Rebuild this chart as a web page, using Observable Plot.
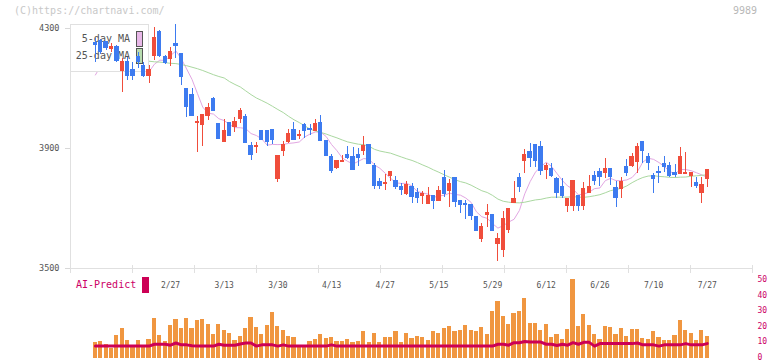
<!DOCTYPE html>
<html>
<head>
<meta charset="utf-8">
<script src="https://cdn.jsdelivr.net/npm/d3@7"></script>
<script src="https://cdn.jsdelivr.net/npm/@observablehq/plot@0.6"></script>
<style>
  body { margin: 0; background: #fff; }
  #chart { position: relative; width: 772px; height: 361px; overflow: hidden; font-family: "DejaVu Sans Mono", monospace; }
  #chart svg { position: absolute; left: 0; top: 0; }
  .credit { position: absolute; left: 14px; top: 6px; font-size: 10px; line-height: 10px; color: #c8c8c8; white-space: nowrap; }
  .code { position: absolute; left: 733px; top: 6px; font-size: 10px; line-height: 10px; color: #b8b8b8; }
  .ai { position: absolute; left: 76px; top: 280px; font-size: 10px; line-height: 10px; color: #cc0066; }
  .ai-swatch { position: absolute; left: 142px; top: 277px; width: 7px; height: 16px; background: #cc0055; }
</style>
</head>
<body>
<div id="chart">
  <div class="credit">(C)https://chartnavi.com/</div>
  <div class="code">9989</div>
</div>
<script>
// Daily candles: open / high / low / close
const open = [4252,4257,4254,4232,4240,4160,4190,4163,4205,4174,4143,4208,4288,4204,4198,4247,4215,4099,4080,3986,
  3980,4010,4066,3982,3921,3986,3973,3997,4004,3910,3905,3957,3960,3963,3799,3891,3921,3963,3941,3977,
  3966,3960,3984,3924,3871,3836,3856,3880,3871,3880,3893,3913,3843,3788,3782,3810,3793,3773,3749,3773,
  3751,3743,3716,3743,3724,3801,3760,3801,3724,3716,3713,3671,3597,3677,3679,3582,3563,3627,3719,3801,
  3858,3890,3913,3904,3830,3832,3799,3771,3710,3708,3743,3710,3752,3810,3821,3818,3832,3769,3766,3840,
  3841,3854,3923,3873,3810,3823,3849,3841,3819,3816,3816,3810,3784,3751,3799];
const high = [4266,4262,4258,4250,4244,4201,4204,4188,4219,4188,4177,4305,4293,4210,4236,4313,4218,4100,4099,4007,
  4014,4049,4069,3984,3997,3988,4002,4032,4012,3921,3921,3958,3961,3964,3877,3924,3963,3988,3960,3984,
  3980,3997,4010,3925,3880,3861,3877,3907,3904,3901,3940,3915,3849,3799,3813,3823,3808,3784,3790,3784,
  3766,3758,3771,3744,3774,3827,3796,3802,3725,3727,3715,3672,3651,3712,3681,3616,3690,3699,3790,3816,
  3897,3916,3915,3923,3849,3849,3804,3799,3732,3793,3743,3786,3810,3824,3832,3866,3833,3790,3802,3862,
  3882,3916,3924,3884,3816,3840,3873,3854,3847,3904,3888,3819,3802,3804,3830];
const low = [4188,4215,4228,4220,4188,4086,4127,4128,4166,4138,4118,4193,4204,4179,4175,4200,4110,4004,4008,3888,
  3906,3993,4024,3930,3919,3941,3955,3982,3916,3860,3884,3927,3907,3912,3788,3874,3918,3930,3929,3932,
  3943,3958,3924,3874,3816,3830,3852,3862,3830,3841,3877,3847,3765,3763,3760,3791,3763,3743,3743,3716,
  3716,3713,3716,3696,3724,3738,3704,3702,3682,3663,3660,3624,3588,3638,3624,3525,3536,3616,3719,3754,
  3818,3838,3838,3810,3796,3805,3734,3732,3686,3691,3691,3693,3752,3777,3774,3799,3777,3704,3734,3807,
  3838,3818,3849,3827,3751,3784,3821,3802,3804,3813,3813,3771,3766,3716,3771];
const close = [4246,4223,4234,4240,4193,4190,4143,4143,4188,4143,4163,4268,4210,4184,4223,4241,4138,4040,4010,3990,
  4012,4036,4026,3932,3960,3943,3987,4024,3918,3877,3910,3930,3921,3930,3874,3913,3947,3930,3945,3957,
  3962,3982,3924,3874,3824,3860,3860,3868,3830,3868,3907,3847,3774,3774,3786,3823,3771,3763,3777,3738,
  3734,3747,3743,3724,3760,3747,3782,3721,3713,3712,3674,3624,3640,3686,3624,3599,3666,3699,3732,3771,
  3877,3869,3858,3824,3843,3807,3751,3741,3732,3793,3710,3766,3771,3791,3804,3832,3804,3734,3788,3818,
  3873,3904,3891,3852,3799,3820,3838,3808,3813,3871,3819,3819,3774,3777,3830];

// Moving-average values before a full window of closes is available
const ma5Lead = [4145, 4175, 4200, 4220];
const ma25Lead = [null, null, null, null, null, null, null, null, null, null,
  4191, 4189, 4188, 4186, 4184, 4183, 4180, 4176, 4171, 4166, 4160, 4153, 4146, 4140];

// Volume (right axis) and the AI-Predict line
const volume = [9.4,10.0,8.5,6.0,14.2,18.5,11.1,6.5,11.1,6.5,11.7,25.2,14.2,10.4,20.6,24.4,18.5,25.0,18.5,23.7,
  24.4,21.2,14.9,21.2,17.4,15.3,10.7,13.2,18.5,25.8,19.5,14.9,20.6,28.8,20.1,17.4,13.6,12.8,6.5,6.5,
  10.4,11.5,14.9,12.1,12.9,10.4,10.4,11.5,9.8,10.4,16.8,9.8,15.4,9.8,12.9,12.9,16.8,9.9,15.6,12.5,
  13.7,13.1,11.1,16.4,15.6,18.8,20.0,16.4,17.4,20.7,17.0,16.4,19.4,14.9,29.4,35.8,26.4,21.1,28.4,29.4,
  37.9,22.0,22.0,17.0,21.2,12.7,14.5,11.7,18.0,49.7,20.1,27.5,20.6,14.9,11.7,20.0,19.4,14.9,18.7,13.6,
  18.0,18.0,12.4,11.7,16.8,12.9,11.1,11.1,14.2,23.7,17.4,15.5,11.1,17.4,13.6];
const aiPredict = [7.3,7.3,7.3,7.3,7.3,7.3,7.3,7.3,7.3,7.3,7.3,8.5,8.5,8.5,7.9,9.3,8.1,8.1,7.5,7.3,
  7.3,7.3,7.3,8.5,7.9,7.9,7.9,8.7,9.3,9.3,7.3,8.1,8.1,8.1,7.3,8.1,7.3,7.3,7.3,7.3,
  7.3,7.3,7.3,7.3,8.1,7.3,7.3,7.3,7.3,7.3,7.3,7.3,7.3,7.3,7.3,7.3,7.3,7.3,7.3,7.3,
  7.3,7.3,7.3,7.3,7.3,7.3,7.3,7.3,7.3,7.3,7.3,7.3,7.3,7.3,7.3,8.5,8.5,7.9,9.5,9.5,
  10.3,9.9,9.9,9.9,8.5,8.5,7.7,8.5,7.9,9.5,8.5,9.7,9.7,7.3,8.9,8.9,8.9,8.9,8.9,8.9,
  8.9,9.3,8.1,8.1,8.1,7.3,8.1,8.1,8.1,8.1,8.9,8.1,8.1,8.1,8.9];

// Date labels under the price panel (candle index -> label)
const dateIndex = [14, 24, 34, 44, 54, 64, 74, 84, 94, 104, 114];
const dateText = ["2/27", "3/13", "3/30", "4/13", "4/27", "5/15", "5/29", "6/12", "6/26", "7/10", "7/27"];

// Axis ticks
const priceTicks = [3500, 3900, 4300];
const volumeTicks = [0, 10, 20, 30, 40, 50];

const legendItems = [
  {label: "5-day MA", color: "#e8b8e8"},
  {label: "25-day MA", color: "#b8dcb0"}
];

const UP = "#f04d3b", DOWN = "#3d7bf0";
const MONO = "DejaVu Sans Mono, monospace";

const xDomain = [-4.64, 122.43];
const divisions = d3.range(12).map(k => xDomain[0] + k * (xDomain[1] - xDomain[0]) / 11);

const candles = close.map((c, i) => ({i, open: open[i], high: high[i], low: low[i], close: c}));
const rising = candles.filter(d => d.close >= d.open);
const falling = candles.filter(d => d.close < d.open);

function movingAverage(n, lead) {
  return close.map((c, i) => i < n - 1 ? lead[i] : d3.mean(close.slice(i - n + 1, i + 1)));
}
const ma5 = movingAverage(5, ma5Lead).map((v, i) => ({i, v}));
const ma25 = movingAverage(25, ma25Lead).map((v, i) => ({i, v})).filter(d => d.v != null);

const dates = dateIndex.map((i, k) => ({i, text: dateText[k]}));

// Legend box: sits over the average lines, under the candles
function legend(index, scales, values, dims) {
  const left = dims.marginLeft, top = dims.marginTop - 4;
  const g = d3.create("svg:g").attr("font-family", MONO).attr("font-size", 10);
  g.append("rect").attr("x", left + 0.5).attr("y", top + 0.5).attr("width", 78).attr("height", 47)
    .attr("fill", "white").attr("stroke", "#e0e0e0");
  legendItems.forEach((d, k) => {
    g.append("text").attr("x", left + 60).attr("y", top + 18 + k * 17)
      .attr("text-anchor", "end").attr("fill", "#555").text(d.label);
    g.append("rect").attr("x", left + 66.5).attr("y", top + 7.5 + k * 17).attr("width", 6).attr("height", 15)
      .attr("fill", d.color).attr("stroke", "#555");
  });
  return g.node();
}

const half = 0.4;
const crisp = {shapeRendering: "crispEdges"};
const plain = d => String(d);

const pricePlot = Plot.plot({
  width: 772, height: 361,
  marginLeft: 70, marginRight: 20, marginTop: 28, marginBottom: 93,
  style: {background: "transparent", fontFamily: MONO, fontSize: "8px", overflow: "visible"},
  x: {domain: xDomain, axis: null},
  y: {domain: [priceTicks[0], priceTicks[priceTicks.length - 1]], axis: null},
  marks: [
    Plot.ruleX([xDomain[0]], {stroke: "#e0e0e0", insetTop: -4, ...crisp}),
    Plot.ruleY([priceTicks[0]], {stroke: "#e0e0e0", ...crisp}),
    Plot.ruleX(divisions, {y1: priceTicks[0], y2: priceTicks[0], insetTop: -3, insetBottom: -5, stroke: "#e0e0e0", ...crisp}),
    Plot.axisY(priceTicks, {tickSize: 5, tickPadding: 6, tickFormat: plain, stroke: "#d8d8d8", fill: "#555", label: null, fontSize: 8.5}),
    Plot.text(dates, {x: "i", y: priceTicks[0], dy: 17, text: "text", fill: "#555", fontSize: 8}),
    Plot.line(ma5, {x: "i", y: "v", stroke: "#e2a6e2", strokeWidth: 1}),
    Plot.line(ma25, {x: "i", y: "v", stroke: "#aad8a0", strokeWidth: 1}),
    legend,
    Plot.ruleX(rising, {x: "i", y1: "low", y2: "high", stroke: UP, ...crisp}),
    Plot.ruleX(falling, {x: "i", y1: "low", y2: "high", stroke: DOWN, ...crisp}),
    Plot.rect(rising, {x1: d => d.i - half, x2: d => d.i + half, y1: "open", y2: "close", fill: UP, insetTop: -0.5, insetBottom: -0.5, ...crisp}),
    Plot.rect(falling, {x1: d => d.i - half, x2: d => d.i + half, y1: "open", y2: "close", fill: DOWN, insetTop: -0.5, insetBottom: -0.5, ...crisp})
  ]
});

const vol = volume.map((v, i) => ({i, v, ai: aiPredict[i]}));

const volumePlot = Plot.plot({
  width: 772, height: 361,
  marginLeft: 70, marginRight: 20, marginTop: 279, marginBottom: 4,
  style: {background: "transparent", fontFamily: MONO, fontSize: "8px"},
  x: {domain: xDomain, axis: null},
  y: {domain: [volumeTicks[0], volumeTicks[volumeTicks.length - 1]], axis: null},
  marks: [
    Plot.axisY(volumeTicks, {anchor: "right", tickSize: 0, tickPadding: 5, tickFormat: plain, fill: "#cc0066", label: null, fontSize: 8}),
    Plot.rect(vol, {x1: d => d.i - 0.39, x2: d => d.i + 0.39, y1: 0, y2: "v", fill: "#f09640", insetBottom: -1, ...crisp}),
    Plot.line(vol, {x: "i", y: "ai", stroke: "#cc0055", strokeWidth: 3})
  ]
});

const chart = document.getElementById("chart");
chart.appendChild(pricePlot);
chart.appendChild(volumePlot);

const ai = document.createElement("div");
ai.className = "ai";
ai.textContent = "AI-Predict";
chart.appendChild(ai);
const sw = document.createElement("div");
sw.className = "ai-swatch";
chart.appendChild(sw);
</script>
</body>
</html>
